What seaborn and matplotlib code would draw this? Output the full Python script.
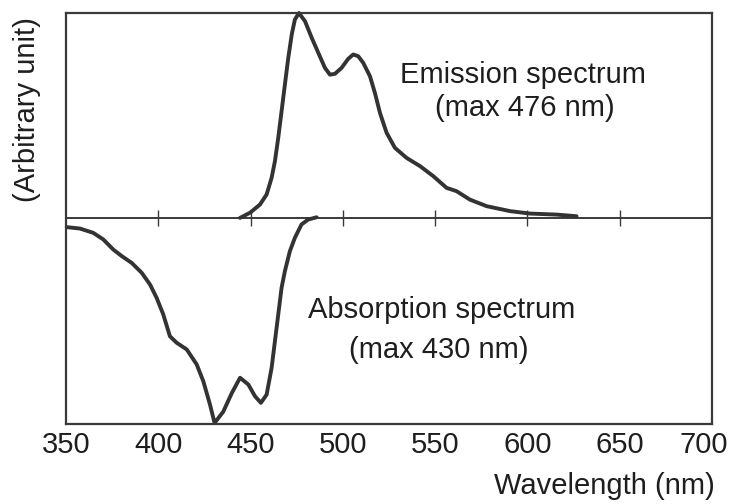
import matplotlib
matplotlib.use("Agg")
import matplotlib.pyplot as plt
import matplotlib.transforms as mtransforms
import seaborn as sns
import pandas as pd

# ---- data ----
em_wavelength = [444.3, 449.7, 455.1, 458.7, 461.4, 463.2, 465.0, 466.8, 468.6, 470.4,
                 472.3, 474.0, 476.2, 479.5, 483.1, 486.7, 490.3, 493.0, 495.7, 499.3,
                 502.9, 505.6, 508.3, 511.0, 514.7, 517.4, 520.1, 523.7, 528.2, 534.5,
                 541.8, 549.0, 556.2, 561.6, 568.8, 577.9, 590.5, 601.4, 615.8, 626.6]
em_intensity = [0.003, 0.028, 0.068, 0.117, 0.198, 0.279, 0.393, 0.522, 0.652, 0.78,
                 0.895, 0.968, 1.0, 0.96, 0.88, 0.806, 0.733, 0.70, 0.704, 0.733,
                 0.777, 0.798, 0.79, 0.758, 0.692, 0.61, 0.514, 0.417, 0.344, 0.295,
                 0.255, 0.206, 0.149, 0.133, 0.092, 0.06, 0.036, 0.024, 0.019, 0.011]

ab_wavelength = [350.4, 357.6, 364.8, 370.2, 375.6, 380.2, 385.6, 391.0, 395.5, 399.1,
                 402.7, 406.3, 410.0, 415.4, 420.8, 424.4, 428.0, 430.5, 435.2, 439.8,
                 444.3, 448.8, 452.4, 455.6, 458.7, 461.4, 463.2, 465.0, 466.8, 468.6,
                 471.3, 474.0, 477.6, 481.2, 485.8]
ab_intensity = [-0.042, -0.049, -0.07, -0.102, -0.151, -0.183, -0.216, -0.264, -0.321,
                -0.386, -0.467, -0.573, -0.605, -0.637, -0.71, -0.792, -0.905, -0.995,
                -0.94, -0.85, -0.775, -0.808, -0.865, -0.897, -0.857, -0.727, -0.597,
                -0.467, -0.337, -0.256, -0.159, -0.094, -0.029, -0.005, 0.006]

x_ticks = [350, 400, 450, 500, 550, 600, 650, 700]
mid_ticks = [400, 450, 500, 550, 600, 650]

# ---- style ----
sns.set_style("white")
plt.rcParams["font.family"] = ["Liberation Sans", "DejaVu Sans"]
ink = "#333333"
spine_c = "#3a3a3a"
txt_c = "#1e1e1e"
fs = 21

fig = plt.figure(figsize=(7.34, 5.04), dpi=100)
ax = fig.add_axes([66 / 734, 1 - 424 / 504, 646 / 734, 411 / 504])

em_df = pd.DataFrame({"wl": em_wavelength, "v": em_intensity})
ab_df = pd.DataFrame({"wl": ab_wavelength, "v": ab_intensity})
for df in (em_df, ab_df):
    sns.lineplot(data=df, x="wl", y="v", ax=ax, color=ink, lw=2.8, sort=False,
                 clip_on=False, solid_joinstyle="round", solid_capstyle="round")

ax.set_xlim(350, 700)
ax.set_ylim(-1.0, 1.0)
ax.set_yticks([])
ax.set_xticks(x_ticks)
ax.tick_params(axis="x", length=0, pad=5, labelsize=fs, colors=txt_c)
for s in ax.spines.values():
    s.set_visible(True)
    s.set_color(spine_c)
    s.set_linewidth(1.6)

# keep the last tick label inside the figure, as in the reference
last = ax.get_xticklabels()[-1]
last.set_transform(last.get_transform() +
                   mtransforms.ScaledTranslation(-8 / 100, 0, fig.dpi_scale_trans))

# zero line with tick marks
sec = ax.secondary_xaxis(0.5)
sec.set_xticks(mid_ticks, labels=[""] * len(mid_ticks))
sec.tick_params(direction="inout", length=12, width=1.0, color=spine_c)
for s in sec.spines.values():
    s.set_color(spine_c)
    s.set_linewidth(1.4)

# labels
ax.set_xlabel("Wavelength (nm)", fontsize=fs, color=txt_c)
ax.xaxis.set_label_coords(1.005, -0.117)
ax.xaxis.label.set_horizontalalignment("right")
ax.xaxis.label.set_verticalalignment("top")

ax.set_ylabel("(Arbitrary unit)", fontsize=fs, color=txt_c)
ax.yaxis.label.set_verticalalignment("center")
ax.yaxis.set_label_coords(-0.060, 0.766)

ax.text(597.6, 0.70, "Emission spectrum", fontsize=fs, ha="center", va="center",
        color=txt_c)
ax.text(598.4, 0.54, "(max 476 nm)", fontsize=fs, ha="center", va="center",
        color=txt_c)
ax.text(553.4, -0.443, "Absorption spectrum", fontsize=fs, ha="center", va="center",
        color=txt_c)
ax.text(552.0, -0.642, "(max 430 nm)", fontsize=fs, ha="center", va="center",
        color=txt_c)

fig.savefig("out.png", dpi=100)
